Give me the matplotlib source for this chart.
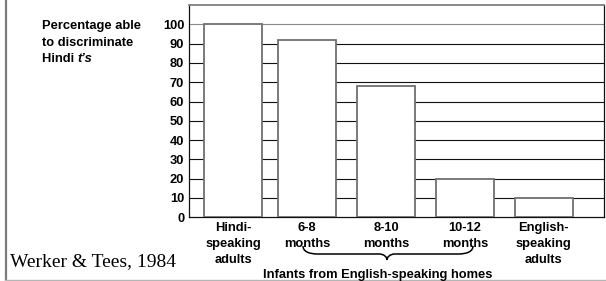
import matplotlib
matplotlib.use("Agg")
import matplotlib.pyplot as plt
from matplotlib.path import Path
from matplotlib.patches import PathPatch

groups = ["Hindi-\nspeaking\nadults", "6-8\nmonths", "8-10\nmonths",
          "10-12\nmonths", "English-\nspeaking\nadults"]
percent = [100, 92, 68, 20, 10]
yticks = [0, 10, 20, 30, 40, 50, 60, 70, 80, 90, 100]

plt.rcParams['font.family'] = ['Liberation Sans', 'DejaVu Sans']
plt.rcParams['font.weight'] = 'bold'
plt.rcParams['font.size'] = 9.3

W, H = 606, 281
fig = plt.figure(figsize=(W / 100, H / 100), dpi=100)

# axes in pixel terms: x 189..603.5, y 5..217.3 (from top)
ax = fig.add_axes([189 / W, 1 - 217.3 / H, (603.5 - 189) / W, (217.3 - 5) / H])

# bar positions (axis-local units, one unit = one pixel)
centers = [44.3, 118.3, 197.3, 276.0, 354.7]
ax.bar(centers, percent, width=58, color='white', edgecolor='#707070',
       linewidth=1.3, zorder=3)

ax.set_xlim(0, 414.5)
ax.set_ylim(0, 110)
ax.set_yticks(yticks)
ax.set_xticks(centers, groups, linespacing=1.45)
ax.tick_params(axis='both', length=0, labelsize=9.3)
ax.tick_params(axis='y', pad=3.5)
ax.tick_params(axis='x', pad=3.5)
for lab in ax.get_yticklabels() + ax.get_xticklabels():
    lab.set_fontweight('bold')

for y in yticks[1:]:
    ax.axhline(y, color='#8a8a8a' if y == 100 else '#111111', lw=0.8, zorder=1)

for side in ['left', 'bottom', 'right']:
    ax.spines[side].set_color('#111111')
    ax.spines[side].set_linewidth(0.9)
ax.spines['top'].set_color('#808080')
ax.spines['top'].set_linewidth(1.3)

# y label, top-left
px = fig.dpi_scale_trans
def at(x, y):
    return (x / 100, (H - y) / 100)

fs = 9.3
fig.text(*at(42, 29), "Percentage able", transform=px, fontweight='bold',
         fontsize=fs, va='baseline')
fig.text(*at(42, 45.5), "to discriminate", transform=px, fontweight='bold',
         fontsize=fs, va='baseline')
hindi = fig.text(*at(42, 61.5), "Hindi ", transform=px, fontweight='bold',
                 fontsize=fs, va='baseline')
fig.canvas.draw()
bb = hindi.get_window_extent()
fig.text(bb.x1 / 100, (H - 61.5) / 100, "t\u2019s", transform=px,
         fontweight='bold', fontstyle='italic', fontsize=fs, va='baseline')

# group label and brace
fig.text(*at(378, 278), "Infants from English-speaking homes", transform=px,
         fontweight='bold', fontsize=fs, ha='center', va='baseline')

brace = [at(303, 246), at(303, 251), at(308, 254), at(318, 254),
         at(379, 254),
         at(384, 254), at(387, 257), at(387, 260),
         at(387, 257), at(390, 254), at(395, 254),
         at(458, 254),
         at(468, 254), at(473, 251), at(473, 246)]
codes = [Path.MOVETO, Path.CURVE4, Path.CURVE4, Path.CURVE4,
         Path.LINETO,
         Path.CURVE4, Path.CURVE4, Path.CURVE4,
         Path.CURVE4, Path.CURVE4, Path.CURVE4,
         Path.LINETO,
         Path.CURVE4, Path.CURVE4, Path.CURVE4]
fig.add_artist(PathPatch(Path(brace, codes), transform=px, fill=False,
                         edgecolor='black', lw=1.1))

# citation
fig.text(*at(10, 266), "Werker & Tees, 1984", transform=px,
         family=['Liberation Serif', 'DejaVu Serif'], fontweight='normal',
         fontsize=14, va='baseline')

# slide frame lines
fig.add_artist(plt.Line2D([5.5 / W, 5.5 / W], [1 - 279.5 / H, 1], transform=fig.transFigure,
                          color='#7a7a7a', lw=1.6))
fig.add_artist(plt.Line2D([5 / W, 1], [1 - 279.5 / H, 1 - 279.5 / H],
                          transform=fig.transFigure, color='#b5b5b5', lw=1))

fig.savefig("out.png", dpi=100)
